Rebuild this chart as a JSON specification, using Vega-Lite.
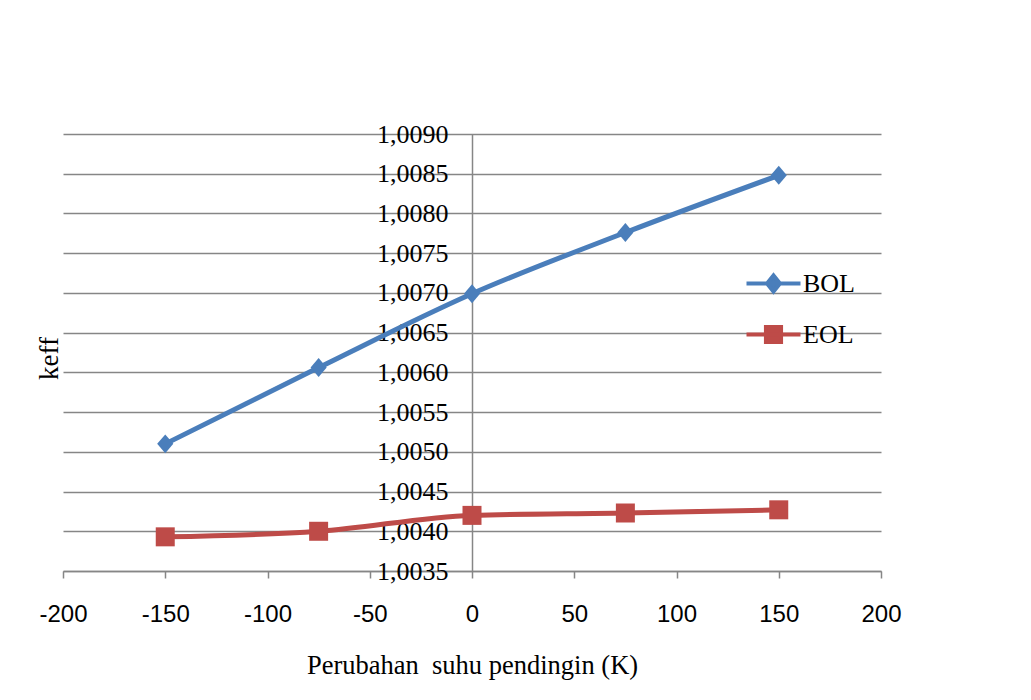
{
  "$schema": "https://vega.github.io/schema/vega-lite/v6.json",
  "width": 818,
  "height": 437,
  "autosize": {"type": "none"},
  "padding": {"left": 63, "top": 134, "right": 150, "bottom": 129},
  "background": "white",
  "config": {"view": {"stroke": null}},
  "data": {
    "values": [
      {"dT": -150, "keff": 1.00510, "series": "BOL"},
      {"dT": -75, "keff": 1.00606, "series": "BOL"},
      {"dT": 0, "keff": 1.00699, "series": "BOL"},
      {"dT": 75, "keff": 1.00776, "series": "BOL"},
      {"dT": 150, "keff": 1.00848, "series": "BOL"},
      {"dT": -150, "keff": 1.00393, "series": "EOL"},
      {"dT": -75, "keff": 1.00400, "series": "EOL"},
      {"dT": 0, "keff": 1.00420, "series": "EOL"},
      {"dT": 75, "keff": 1.00423, "series": "EOL"},
      {"dT": 150, "keff": 1.00427, "series": "EOL"}
    ]
  },
  "encoding": {
    "x": {
      "field": "dT",
      "type": "quantitative",
      "scale": {"domain": [-200, 200], "nice": false},
      "axis": {
        "values": [-200, -150, -100, -50, 0, 50, 100, 150, 200],
        "labelExpr": "datum.value < 0 ? '-' + abs(datum.value) : '' + datum.value",
        "grid": false,
        "labelFlush": false,
        "labelFont": "Liberation Sans",
        "labelFontSize": 24,
        "labelColor": "#000000",
        "labelBaseline": "middle",
        "labelPadding": 36,
        "tickSize": 7,
        "tickColor": "#868686",
        "tickWidth": 1.5,
        "domainColor": "#868686",
        "domainWidth": 1.5,
        "title": "Perubahan \u00a0suhu pendingin (K)",
        "titleFont": "Liberation Serif",
        "titleFontSize": 26.5,
        "titleFontWeight": "normal",
        "titleColor": "#000000",
        "titleBaseline": "alphabetic",
        "titleY": 102
      }
    },
    "y": {
      "field": "keff",
      "type": "quantitative",
      "scale": {"domain": [1.0035, 1.009], "nice": false, "zero": false},
      "axis": {
        "orient": "left",
        "offset": -409,
        "values": [1.0035, 1.004, 1.0045, 1.005, 1.0055, 1.006, 1.0065, 1.007, 1.0075, 1.008, 1.0085, 1.009],
        "labelExpr": "replace(format(datum.value, '.4f'), '.', ',')",
        "labelFont": "Liberation Serif",
        "labelFontSize": 26,
        "labelColor": "#000000",
        "labelBaseline": "middle",
        "labelPadding": 24,
        "labelOverlap": false,
        "ticks": false,
        "domainColor": "#868686",
        "domainWidth": 1.5,
        "grid": true,
        "gridColor": "#868686",
        "gridWidth": 1.5,
        "title": "keff",
        "titleFont": "Liberation Serif",
        "titleFontSize": 27,
        "titleFontWeight": "normal",
        "titleColor": "#000000",
        "titleAngle": -90,
        "titleAlign": "center",
        "titleBaseline": "middle",
        "titleX": -423,
        "titleY": 224
      }
    },
    "color": {
      "field": "series",
      "type": "nominal",
      "scale": {"domain": ["BOL", "EOL"], "range": ["#4A7EBB", "#BE4B48"]},
      "legend": {
        "title": null,
        "orient": "none",
        "legendX": 695,
        "legendY": 134,
        "padding": 0,
        "rowPadding": 18,
        "labelOffset": 14,
        "labelFont": "Liberation Serif",
        "labelFontSize": 26,
        "labelColor": "#000000",
        "symbolSize": 729,
        "symbolStrokeWidth": 4,
        "encode": {
          "symbols": {
            "update": {
              "shape": {"signal": "datum.value === 'BOL' ? 'M-2,0H2M-0.48,0L0,-0.6L0.48,0L0,0.6Z' : 'M-2,0H2M-0.56,-0.56H0.56V0.56H-0.56Z'"},
              "fill": {"signal": "scale('color', datum.value)"},
              "stroke": {"signal": "scale('color', datum.value)"},
              "strokeWidth": {"value": 4},
              "opacity": {"value": 1}
            }
          }
        }
      }
    }
  },
  "layer": [
    {
      "mark": {"type": "line", "strokeWidth": 5, "interpolate": "monotone", "strokeCap": "round"}
    },
    {
      "transform": [{"filter": "datum.series === 'BOL'"}],
      "mark": {"type": "point", "filled": true, "opacity": 1, "size": 360, "shape": "M-0.85,0L0,-1L0.85,0L0,1Z"}
    },
    {
      "transform": [{"filter": "datum.series === 'EOL'"}],
      "mark": {"type": "point", "filled": true, "opacity": 1, "size": 361, "shape": "square"}
    }
  ]
}
